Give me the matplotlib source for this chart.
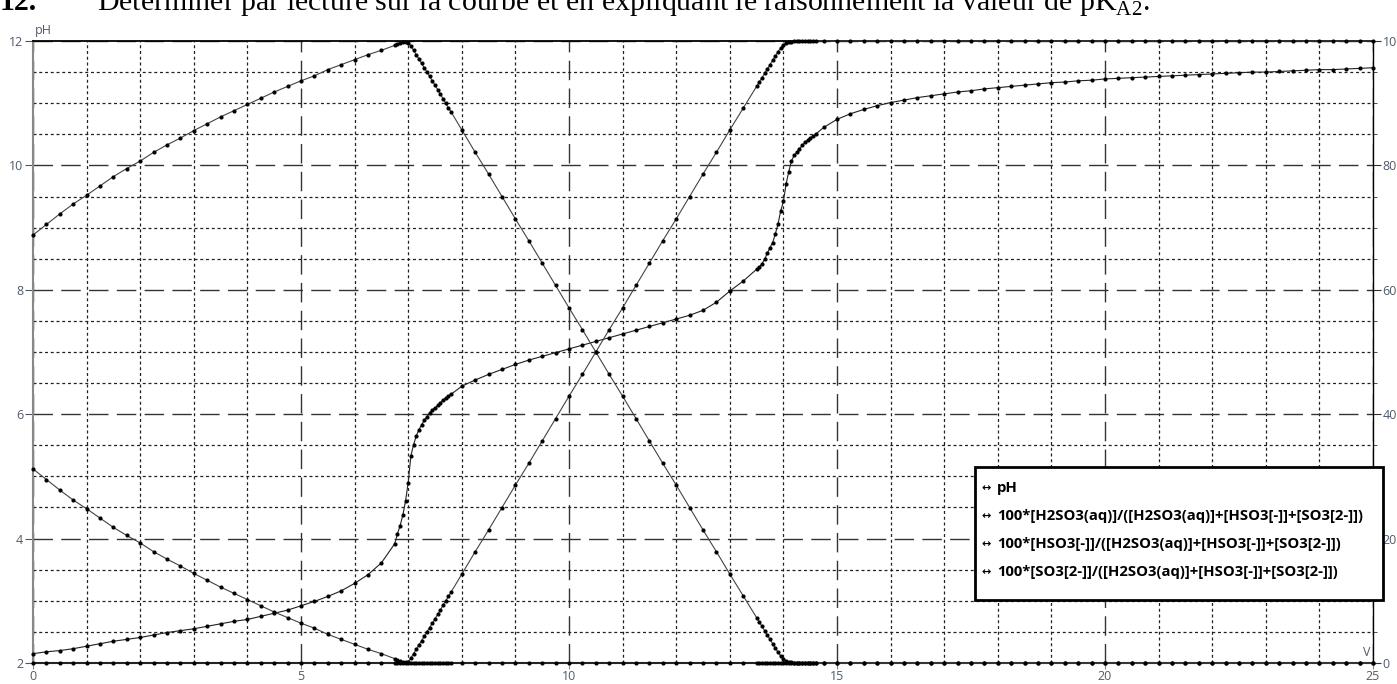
import numpy as np
import matplotlib
matplotlib.use("Agg")
import matplotlib.pyplot as plt
from matplotlib.ticker import MultipleLocator
from matplotlib.patches import Rectangle

W, H = 1397, 684

# volume of titrant (mL): 0.25 steps, finer steps around the two equivalences
v_seg1 = np.arange(0.0, 6.76, 0.25)
v_seg2 = np.arange(6.80, 7.81, 0.05)
v_seg3 = np.arange(8.0, 13.51, 0.25)
v_seg4 = np.arange(13.55, 14.61, 0.05)
v_seg5 = np.arange(14.75, 25.01, 0.25)
V = np.round(np.concatenate([v_seg1, v_seg2, v_seg3, v_seg4, v_seg5]), 2)

ph = ([2.15, 2.18, 2.20, 2.23, 2.27, 2.31, 2.35, 2.38, 2.41, 2.45, 2.49, 2.52, 2.55, 2.59,
       2.63, 2.67, 2.70, 2.75, 2.80, 2.85, 2.92, 2.99, 3.07, 3.16, 3.28, 3.42, 3.61, 3.92]
      + [4.08, 4.21, 4.38, 4.60, 4.90, 5.33, 5.51, 5.65, 5.75, 5.83, 5.90, 5.96, 6.02, 6.07,
         6.10, 6.14, 6.18, 6.23, 6.26, 6.29, 6.32]
      + [6.45, 6.55, 6.64, 6.72, 6.80, 6.87, 6.93, 6.99, 7.05, 7.11, 7.17, 7.23, 7.29, 7.35,
         7.41, 7.47, 7.53, 7.59, 7.67, 7.80, 7.98, 8.14, 8.33]
      + [8.36, 8.42, 8.49, 8.59, 8.68, 8.76, 8.90, 9.06, 9.27, 9.42, 9.70, 9.90, 10.07, 10.16,
         10.21, 10.27, 10.32, 10.37, 10.41, 10.44, 10.47, 10.50]
      + [10.61, 10.74, 10.83, 10.90, 10.96, 11.01, 11.05, 11.09, 11.12, 11.15, 11.18, 11.20,
         11.23, 11.25, 11.27, 11.29, 11.31, 11.33, 11.34, 11.36, 11.37, 11.39, 11.40, 11.41,
         11.42, 11.43, 11.44, 11.45, 11.46, 11.47, 11.48, 11.49, 11.50, 11.50, 11.51, 11.52,
         11.53, 11.54, 11.54, 11.55, 11.56, 11.57])

pct_h2so3 = ([31.2, 29.5, 27.8, 26.2, 24.8, 23.3, 21.8, 20.5, 19.3, 17.9, 16.7, 15.6, 14.4, 13.3,
              12.2, 11.2, 10.2, 9.2, 8.2, 7.3, 6.4, 5.6, 4.6, 3.8, 3.0, 2.2, 1.5, 0.7]
             + [0.5, 0.3, 0.2, 0.1, 0.05] + [0.0] * 16
             + [0.0] * 23 + [0.0] * 22 + [0.0] * 42)

pct_hso3 = ([68.8, 70.5, 72.2, 73.8, 75.2, 76.7, 78.2, 79.5, 80.7, 82.1, 83.3, 84.4, 85.6, 86.7,
             87.8, 88.8, 89.8, 90.8, 91.8, 92.7, 93.6, 94.4, 95.4, 96.2, 97.0, 97.8, 98.5, 99.3]
            + [99.5, 99.7, 99.8, 99.85, 99.75, 99.2, 98.5, 97.8, 97.1, 96.4, 95.7, 95.0, 94.3,
               93.6, 92.9, 92.2, 91.5, 90.7, 90.0, 89.3, 88.6]
            + [85.7, 82.1, 78.6, 75.0, 71.4, 67.9, 64.3, 60.7, 57.1, 53.6, 50.0, 46.4, 42.9,
               39.3, 35.7, 32.1, 28.6, 25.0, 21.4, 17.9, 14.3, 10.8, 7.3]
            + [6.6, 5.9, 5.2, 4.5, 3.8, 3.1, 2.4, 1.7, 1.1, 0.6, 0.3, 0.15, 0.1, 0.05] + [0.0] * 8
            + [0.0] * 42)

pct_so3 = ([0.0] * 28
           + [0.0, 0.0, 0.0, 0.05, 0.2, 0.8, 1.5, 2.2, 2.9, 3.6, 4.3, 5.0, 5.7, 6.4, 7.1, 7.8,
              8.5, 9.3, 10.0, 10.7, 11.4]
           + [14.3, 17.9, 21.4, 25.0, 28.6, 32.1, 35.7, 39.3, 42.9, 46.4, 50.0, 53.6, 57.1,
              60.7, 64.3, 67.9, 71.4, 75.0, 78.6, 82.1, 85.7, 89.2, 92.7]
           + [93.4, 94.1, 94.8, 95.5, 96.2, 96.9, 97.6, 98.3, 98.9, 99.4, 99.7, 99.85, 99.9,
              99.95] + [100.0] * 8
           + [100.0] * 42)

legend_labels = ["pH",
                 "100*[H2SO3(aq)]/([H2SO3(aq)]+[HSO3[-]]+[SO3[2-]])",
                 "100*[HSO3[-]]/([H2SO3(aq)]+[HSO3[-]]+[SO3[2-]])",
                 "100*[SO3[2-]]/([H2SO3(aq)]+[HSO3[-]]+[SO3[2-]])"]

plt.rcParams['mathtext.fontset'] = 'custom'
plt.rcParams['mathtext.rm'] = 'Liberation Serif'

tick_col = '#4f5a6b'


def px(x, y):
    return x / W, 1 - y / H


fig = plt.figure(figsize=(W / 100, H / 100), dpi=100)
ax = fig.add_axes([33 / W, 1 - 663 / H, (1373 - 33) / W, (663 - 41) / H])
ax.set_xlim(0, 25)
ax.set_ylim(2, 12)
ax2 = ax.twinx()
ax2.set_ylim(0, 100)

ax.xaxis.set_major_locator(MultipleLocator(5))
ax.xaxis.set_minor_locator(MultipleLocator(1))
ax.yaxis.set_major_locator(MultipleLocator(2))
ax.yaxis.set_minor_locator(MultipleLocator(0.5))
ax2.yaxis.set_major_locator(MultipleLocator(20))
ax2.yaxis.set_minor_locator(MultipleLocator(5))

ax.grid(which='major', color='#333333', lw=1.0, ls=(0, (14, 6)))
ax.grid(which='minor', color='#222222', lw=0.9, ls=(0, (2.4, 2.2)))
ax.set_axisbelow(True)

line_kw = dict(marker='o', ms=3.0, mfc='black', mec='black', mew=0, clip_on=False)
ax.plot(V, ph, color='#222222', lw=0.8, zorder=3, **line_kw)
ax2.plot(V, pct_h2so3, color='#444444', lw=0.8, zorder=3, **line_kw)
ax2.plot(V, pct_hso3, color='#444444', lw=0.8, zorder=3, **line_kw)
ax2.plot(V, pct_so3, color='#444444', lw=0.8, zorder=3, **line_kw)

for s in ['top', 'bottom', 'left', 'right']:
    ax2.spines[s].set_visible(s == 'right')
ax.spines['right'].set_visible(False)
ax.spines['left'].set_color('#888888')
ax.spines['left'].set_linewidth(1.5)
ax.spines['top'].set_linewidth(1.3)
ax.spines['bottom'].set_linewidth(1.5)
ax2.spines['right'].set_linewidth(1.0)

ax.tick_params(axis='x', which='major', direction='out', length=4, color='#888888',
               labelsize=9, labelcolor=tick_col, pad=1)
ax.tick_params(axis='x', which='minor', length=0)
ax.tick_params(axis='y', which='major', direction='out', length=6, color='#555555',
               labelsize=9, labelcolor=tick_col, pad=1)
ax.tick_params(axis='y', which='minor', length=0)
ax2.tick_params(axis='y', which='major', direction='out', length=6, color='#333333',
                labelsize=9, labelcolor=tick_col, pad=1)
ax2.tick_params(axis='y', which='minor', direction='out', length=3, color='#333333')
for lab in ax.get_xticklabels() + ax.get_yticklabels() + ax2.get_yticklabels():
    lab.set_fontfamily('Open Sans')

fig.text(*px(35, 34), "pH", fontsize=9, color=tick_col, family='Open Sans', va='baseline')
fig.text(*px(1363, 656), "V", fontsize=9, color=tick_col, family='Open Sans', va='baseline')

# question line, cut off at the top edge of the picture
fig.text(*px(0, 10), "12.", fontsize=21.5, family='Liberation Serif', fontweight='bold',
         va='baseline')
fig.text(*px(97, 10),
         "Déterminer par lecture sur la courbe et en expliquant le raisonnement la valeur de "
         r"pK$_{\mathrm{A2}}$.", fontsize=21.5, family='Liberation Serif', va='baseline')

# legend box
fig.add_artist(Rectangle(px(975, 600), (1383 - 975) / W, (600 - 467) / H,
                         transform=fig.transFigure, facecolor='white', edgecolor='black',
                         lw=2, zorder=5))
for i, lab in enumerate(legend_labels):
    yy = 488 + 28 * i
    fig.text(*px(986, yy), "↔", fontsize=8, family='DejaVu Sans', fontweight='bold',
             va='center', ha='center', zorder=6)
    fig.text(*px(997, yy), lab, fontsize=10.75, family='Open Sans', fontweight='bold',
             va='center', zorder=6)

fig.savefig("out.png", dpi=100)
